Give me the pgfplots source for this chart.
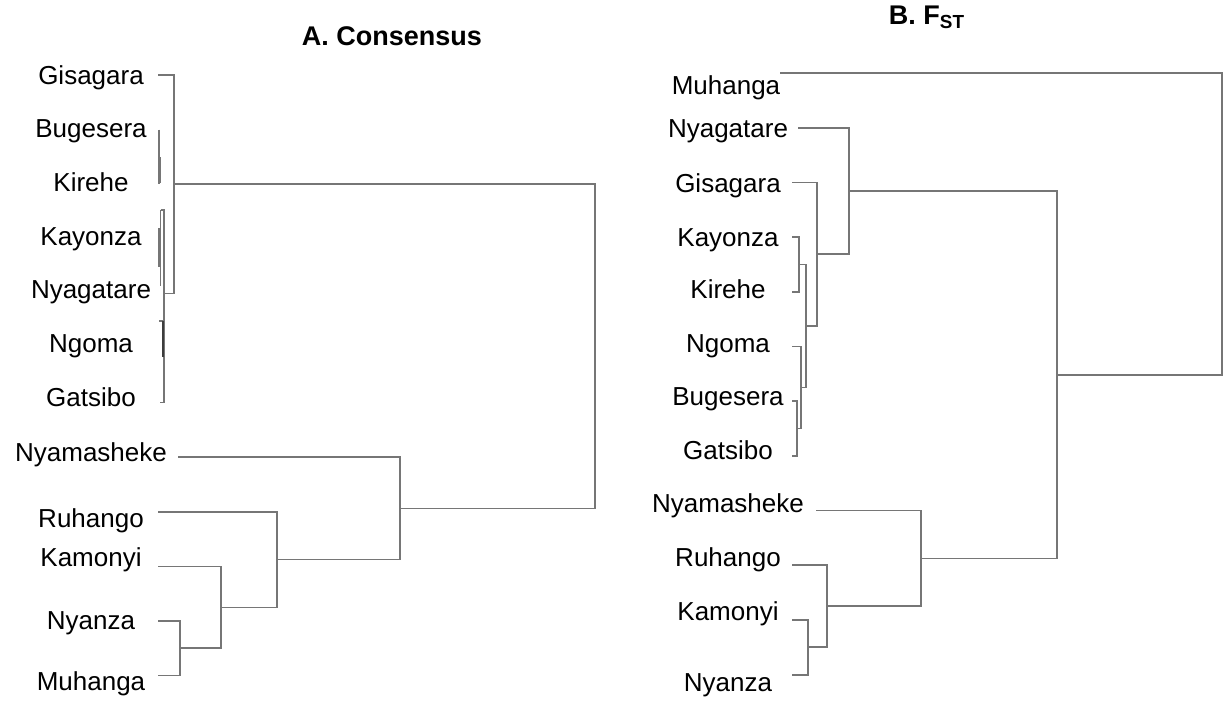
\documentclass[border=0pt]{standalone}
\usepackage{pgfplots}
\pgfplotsset{compat=1.18}
\usepackage{fontspec}
\setmainfont{Liberation Sans}
\definecolor{dl}{RGB}{118,118,118}
\definecolor{dk}{RGB}{60,60,60}
\pgfplotsset{
  dendro/.style={hide axis, scale only axis, y dir=reverse, ymin=0, ymax=709, clip=false,
     height=354.5pt, anchor=south west},
  br/.style={dl, solid, line width=0.85pt, mark=none, line join=miter},
}
\newcommand{\lab}[3]{\node[anchor=base, font=\fontsize{13}{15}\selectfont] at (axis cs:#1,#2) {#3};}
\begin{document}
\begin{tikzpicture}
\useasboundingbox (0,0) rectangle (612.5pt,354.5pt);
% ---------------- A. Consensus ----------------
\begin{axis}[dendro, at={(0pt,0pt)}, xmin=0, xmax=612, width=306pt]
% fine structure of the eastern cluster
\addplot[br] coordinates {(158,75) (174,75) (174,293.4) (163.5,293.4)};
\addplot[br] coordinates {(160.5,210) (164,210) (164,402.6) (160,402.6)};
\addplot[br] coordinates {(159,129.6) (159,184.2)};
\addplot[br, line width=1.6pt] coordinates {(159.3,157) (159.3,183)};
\addplot[br] coordinates {(160.5,210) (160.5,286)};
\addplot[br, line width=1.6pt] coordinates {(159.5,228) (159.5,267)};
\addplot[br] coordinates {(159,321) (163,321)};
\addplot[br, dk, line width=1pt] coordinates {(162.8,321) (162.8,357)};
% western cluster
\addplot[br] coordinates {(158,621) (180,621) (180,675.6) (158,675.6)};
\addplot[br] coordinates {(158,566.4) (221,566.4) (221,648.3) (180,648.3)};
\addplot[br] coordinates {(158,511.8) (277,511.8) (277,607.4) (221,607.4)};
\addplot[br] coordinates {(178,457.2) (400,457.2) (400,559.6) (277,559.6)};
% root
\addplot[br] coordinates {(174,184.2) (595,184.2) (595,508.4) (400,508.4)};
\lab{91}{84}{Gisagara}
\lab{91}{137}{Bugesera}
\lab{91}{191}{Kirehe}
\lab{91}{245}{Kayonza}
\lab{91}{298}{Nyagatare}
\lab{91}{352}{Ngoma}
\lab{91}{406}{Gatsibo}
\lab{91}{461}{Nyamasheke}
\lab{91}{527}{Ruhango}
\lab{91}{566}{Kamonyi}
\lab{91}{629}{Nyanza}
\lab{91}{690}{Muhanga}
\node[font=\bfseries\fontsize{13.5}{16}\selectfont] at (axis cs:392,36) {A. Consensus};
\end{axis}
% ---------------- B. FST ----------------
\begin{axis}[dendro, at={(306pt,0pt)}, xmin=612, xmax=1225, width=306.5pt]
\addplot[br] coordinates {(792,237.1) (799,237.1) (799,291.8) (792,291.8)};
\addplot[br] coordinates {(792,401.2) (797,401.2) (797,455.9) (792,455.9)};
\addplot[br] coordinates {(792,346.5) (801,346.5) (801,428.5) (797,428.5)};
\addplot[br] coordinates {(799,264.5) (806,264.5) (806,387.5) (801,387.5)};
\addplot[br] coordinates {(792,182.4) (817,182.4) (817,326) (806,326)};
\addplot[br] coordinates {(798,127.7) (849,127.7) (849,254.2) (817,254.2)};
\addplot[br] coordinates {(792,620) (808,620) (808,674.7) (792,674.7)};
\addplot[br] coordinates {(792,565.3) (827,565.3) (827,647.3) (808,647.3)};
\addplot[br] coordinates {(816,510.6) (921,510.6) (921,606.3) (827,606.3)};
\addplot[br] coordinates {(849,191) (1057,191) (1057,558.5) (921,558.5)};
\addplot[br] coordinates {(780,73) (1222,73) (1222,374.7) (1057,374.7)};
\lab{726}{94}{Muhanga}
\lab{728}{137}{Nyagatare}
\lab{728}{192}{Gisagara}
\lab{728}{246}{Kayonza}
\lab{728}{298}{Kirehe}
\lab{728}{352}{Ngoma}
\lab{728}{405}{Bugesera}
\lab{728}{459}{Gatsibo}
\lab{728}{512}{Nyamasheke}
\lab{728}{566}{Ruhango}
\lab{728}{620}{Kamonyi}
\lab{728}{691}{Nyanza}
\node[font=\bfseries\fontsize{13.5}{16}\selectfont] at (axis cs:927,17) {B. F\textsubscript{ST}};
\end{axis}
\end{tikzpicture}
\end{document}
